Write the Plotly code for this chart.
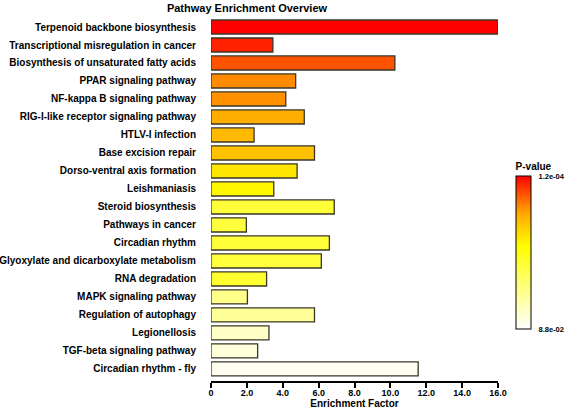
import numpy as np
import plotly.graph_objects as go

pathways = [
    "Terpenoid backbone biosynthesis",
    "Transcriptional misregulation in cancer",
    "Biosynthesis of unsaturated fatty acids",
    "PPAR signaling pathway",
    "NF-kappa B signaling pathway",
    "RIG-I-like receptor signaling pathway",
    "HTLV-I infection",
    "Base excision repair",
    "Dorso-ventral axis formation",
    "Leishmaniasis",
    "Steroid biosynthesis",
    "Pathways in cancer",
    "Circadian rhythm",
    "Glyoxylate and dicarboxylate metabolism",
    "RNA degradation",
    "MAPK signaling pathway",
    "Regulation of autophagy",
    "Legionellosis",
    "TGF-beta signaling pathway",
    "Circadian rhythm - fly",
]
enrichment = [16.0, 3.45, 10.25, 4.72, 4.17, 5.2, 2.4, 5.77, 4.8, 3.5,
              6.87, 1.97, 6.6, 6.15, 3.1, 2.03, 5.77, 3.23, 2.6, 11.55]
pvalues = [1.2e-4, 1.67e-4, 2.65e-4, 4.5e-4, 4.8e-4, 6.7e-4, 8.1e-4, 9.3e-4,
           1.68e-3, 2.2e-3, 5.5e-3, 5.9e-3, 5.5e-3, 5.9e-3, 4.8e-3, 1.69e-2,
           2.06e-2, 4.0e-2, 5.2e-2, 7.2e-2]
p_min, p_max = 1.2e-4, 8.8e-2
x_ticks = [0, 2, 4, 6, 8, 10, 12, 14, 16]
x_tick_labels = ["0", "2.0", "4.0", "6.0", "8.0", "10.0", "12.0", "14.0", "16.0"]

FONT = "Liberation Sans, Arial, sans-serif"
cval = [-np.log10(p) for p in pvalues]
cmin, cmax = -np.log10(p_max), -np.log10(p_min)

colorscale = [[0, "#ffffff"], [0.54, "#ffff00"], [0.76, "#ffa500"], [1, "#ff0000"]]

fig = go.Figure(go.Bar(
    x=enrichment, y=pathways, orientation="h", width=0.78,
    marker=dict(
        color=cval, colorscale=colorscale, cmin=cmin, cmax=cmax,
        line=dict(color="#3a3628", width=1.3),
        colorbar=dict(
            title=dict(text="P-value", side="top",
                       font=dict(family=FONT, size=10, weight="bold", color="black")),
            thickness=15, thicknessmode="pixels",
            len=169, lenmode="pixels",
            x=1.063, xanchor="left", xpad=0,
            y=(381 - 160) / 363, yanchor="top", ypad=0,
            outlinewidth=1, outlinecolor="black",
            tickvals=[cmax, cmin], ticktext=["1.2e-04", "8.8e-02"],
            ticks="outside", ticklen=6, tickcolor="rgba(0,0,0,0)",
            tickfont=dict(family=FONT, size=7.5, weight="bold", color="black"),
        ),
    ),
    hoverinfo="x+y",
))

fig.update_layout(
    width=567, height=411,
    margin=dict(l=211, r=69, t=18, b=30, autoexpand=False),
    paper_bgcolor="white", plot_bgcolor="white",
    title=dict(text="Pathway Enrichment Overview", xref="container", yref="container",
               x=247 / 567, xanchor="center", y=1 - 8 / 411, yanchor="middle",
               font=dict(family=FONT, size=11, weight="bold", color="black")),
    showlegend=False,
)
fig.update_xaxes(
    range=[0, 16], tickvals=x_ticks, ticktext=x_tick_labels, automargin=False,
    showline=True, linecolor="black", linewidth=2,
    ticks="outside", ticklen=5, tickwidth=2, tickcolor="black",
    ticklabelstandoff=-3,
    showgrid=False, zeroline=False,
    tickfont=dict(family=FONT, size=9, weight="bold", color="black"),
    title=dict(text="Enrichment Factor", standoff=3,
               font=dict(family=FONT, size=10, weight="bold", color="black")),
)
fig.update_yaxes(
    categoryorder="array", categoryarray=pathways, automargin=False,
    range=[19.67, -0.5],
    showline=False, showgrid=False, zeroline=False,
    ticks="outside", ticklen=12, tickcolor="rgba(0,0,0,0)",
    tickfont=dict(family=FONT, size=10, weight="bold", color="black"),
)

fig.write_html("out.html", config={"displayModeBar": False},
               post_script="document.body.style.margin='0';document.body.style.overflow='hidden';")
